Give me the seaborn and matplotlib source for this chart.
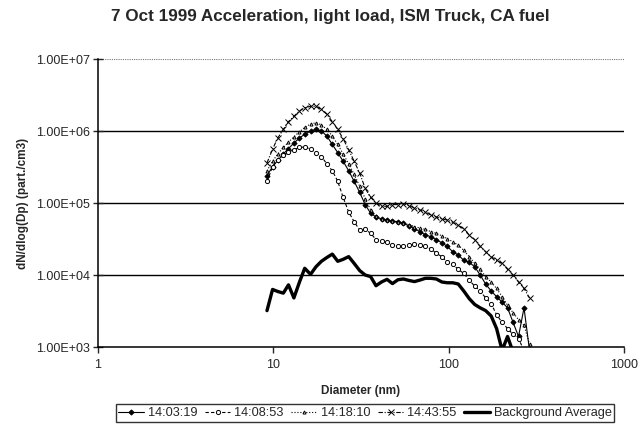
import numpy as np
import pandas as pd
import seaborn as sns
import matplotlib.pyplot as plt
from matplotlib.ticker import FixedLocator, FuncFormatter, NullLocator

# particle diameters (nm), SMPS channels
diameter = [
    9.2, 9.9, 10.6, 11.4, 12.2, 13.1, 14.1, 15.1, 16.3, 17.5,
    18.8, 20.2, 21.7, 23.3, 25.0, 26.9, 28.9, 31.1, 33.4, 35.9,
    38.5, 41.4, 44.5, 47.8, 51.4, 55.2, 59.4, 63.8, 68.5, 73.7,
    79.1, 85.1, 91.4, 98.2, 105.5, 113.4, 121.9, 131.0, 140.7, 151.2,
    162.5, 174.7, 187.7, 201.7, 216.7, 232.9, 250.3, 269.0, 289.1,
]

scan_140319 = [
    2.4e5, 3.2e5, 3.9e5, 4.8e5, 5.7e5, 6.8e5, 8.0e5, 9.0e5, 1.0e6, 1.05e6,
    1.0e6, 8.5e5, 6.5e5, 5.0e5, 3.8e5, 2.8e5, 2.0e5, 1.4e5, 9.5e4, 7.2e4,
    6.4e4, 6.0e4, 5.8e4, 5.6e4, 5.5e4, 5.2e4, 4.8e4, 4.4e4, 4.0e4, 3.6e4,
    3.4e4, 3.1e4, 2.8e4, 2.5e4, 2.1e4, 1.9e4, 1.6e4, 1.5e4, 1.3e4, 1.0e4,
    7.5e3, 6.0e3, 5.0e3, 4.2e3, 3.5e3, 2.2e3, 1.4e3, 3.5e3, 9.0e2,
]

scan_140853 = [
    2.0e5, 3.2e5, 4.0e5, 4.6e5, 5.1e5, 5.5e5, 5.9e5, 6.0e5, 5.6e5, 5.0e5,
    4.4e5, 3.5e5, 2.8e5, 2.0e5, 1.2e5, 7.5e4, 5.5e4, 4.2e4, 4.3e4, 3.8e4,
    3.1e4, 3.0e4, 2.9e4, 2.6e4, 2.5e4, 2.5e4, 2.6e4, 2.7e4, 2.6e4, 2.5e4,
    2.3e4, 2.0e4, 1.8e4, 1.5e4, 1.4e4, 1.2e4, 1.05e4, 8.5e3, 7.0e3, 6.0e3,
    4.8e3, 4.0e3, 2.8e3, 2.2e3, 1.8e3, 1.5e3, 1.3e3, 9.0e2, np.nan,
]

scan_141810 = [
    2.8e5, 3.8e5, 4.8e5, 5.9e5, 7.0e5, 8.3e5, 9.8e5, 1.12e6, 1.25e6, 1.3e6,
    1.22e6, 1.05e6, 8.5e5, 6.5e5, 4.8e5, 3.5e5, 2.5e5, 1.7e5, 1.15e5, 8.0e4,
    6.5e4, 6.0e4, 5.8e4, 5.6e4, 5.4e4, 5.2e4, 5.0e4, 4.7e4, 4.5e4, 4.3e4,
    4.0e4, 3.8e4, 3.5e4, 3.2e4, 2.9e4, 2.6e4, 2.2e4, 1.8e4, 1.45e4, 1.2e4,
    9.5e3, 8.0e3, 6.5e3, 5.0e3, 3.8e3, 3.0e3, 2.4e3, 2.0e3, 1.1e3,
]

scan_144355 = [
    3.6e5, 5.6e5, 8.0e5, 1.05e6, 1.35e6, 1.6e6, 1.9e6, 2.1e6, 2.2e6, 2.2e6,
    2.0e6, 1.7e6, 1.35e6, 1.05e6, 7.8e5, 5.5e5, 3.8e5, 2.6e5, 1.6e5, 1.2e5,
    1.0e5, 9.0e4, 9.0e4, 9.5e4, 9.5e4, 9.8e4, 9.2e4, 8.5e4, 8.0e4, 7.5e4,
    6.8e4, 6.4e4, 6.0e4, 5.8e4, 5.4e4, 4.9e4, 4.4e4, 3.6e4, 3.1e4, 2.5e4,
    2.1e4, 1.8e4, 1.6e4, 1.45e4, 1.2e4, 1.0e4, 8.0e3, 6.5e3, 4.8e3,
]

background_avg = [
    3.2e3, 6.3e3, 5.9e3, 5.6e3, 7.3e3, 4.8e3, 8.0e3, 1.24e4, 1.02e4, 1.3e4,
    1.55e4, 1.75e4, 1.95e4, 1.55e4, 1.65e4, 1.8e4, 1.45e4, 1.15e4, 1.0e4, 9.5e3,
    7.1e3, 8.0e3, 8.7e3, 7.6e3, 8.6e3, 8.8e3, 8.4e3, 8.1e3, 8.5e3, 9.0e3,
    9.0e3, 8.8e3, 8.0e3, 7.8e3, 7.8e3, 7.5e3, 6.0e3, 4.7e3, 3.9e3, 3.5e3,
    3.2e3, 2.7e3, 1.8e3, 9.0e2, 1.4e3, 8.5e2, np.nan, np.nan, np.nan,
]

y_ticks = [1e3, 1e4, 1e5, 1e6, 1e7]
x_ticks = [1, 10, 100, 1000]

series = {
    "14:03:19": scan_140319,
    "14:08:53": scan_140853,
    "14:18:10": scan_141810,
    "14:43:55": scan_144355,
    "Background Average": background_avg,
}

styles = {
    "14:03:19": dict(marker="D", markersize=2.6, linestyle="-", linewidth=0.8,
                     markerfacecolor="black"),
    "14:08:53": dict(marker="o", markersize=3, linestyle=(0, (3, 2)), linewidth=0.8,
                     markerfacecolor="white"),
    "14:18:10": dict(marker="^", markersize=2.2, linestyle=":", linewidth=0.8,
                     markerfacecolor="white"),
    "14:43:55": dict(marker="x", markersize=4, linestyle=(0, (4, 1.5, 1, 1.5)),
                     linewidth=0.8),
    "Background Average": dict(marker=None, linestyle="-", linewidth=2.4),
}

sns.set_style("ticks")
plt.rcParams["font.family"] = ["Liberation Sans", "DejaVu Sans"]

fig = plt.figure(figsize=(6.41, 4.30), dpi=100)
ax = fig.add_axes([98 / 641, 1 - 347 / 430, 526 / 641, 288 / 430])

for name, values in series.items():
    df = pd.DataFrame({"Diameter": diameter, "N": values}).dropna()
    sns.lineplot(
        data=df, x="Diameter", y="N", ax=ax, color="black",
        markeredgecolor="black", markeredgewidth=0.7,
        label=name, estimator=None, sort=False, **styles[name],
    )

ax.set_xscale("log")
ax.set_yscale("log")
ax.set_xlim(1, 1000)
ax.set_ylim(1e3, 1e7)

for v in [1e4, 1e5, 1e6]:
    ax.axhline(v, color="black", linewidth=1.0, zorder=0)
ax.axhline(1e7, color="#777777", linewidth=0.8, linestyle=(0, (1, 1)), zorder=0)

ax.yaxis.set_major_locator(FixedLocator(y_ticks))
ax.yaxis.set_minor_locator(NullLocator())
ax.yaxis.set_major_formatter(FuncFormatter(lambda v, p: f"{v:.2E}"))
ax.xaxis.set_major_locator(FixedLocator(x_ticks))
ax.xaxis.set_minor_locator(NullLocator())
ax.xaxis.set_major_formatter(FuncFormatter(lambda v, p: f"{int(v)}"))

ax.tick_params(axis="y", direction="inout", length=7, width=1, labelsize=9, pad=2)
ax.tick_params(axis="x", direction="out", length=4, width=1, labelsize=9, pad=5)

for side in ["top", "right"]:
    ax.spines[side].set_visible(False)
for side in ["left", "bottom"]:
    ax.spines[side].set_color("black")
    ax.spines[side].set_linewidth(1.1)

ax.set_xlabel("Diameter (nm)", fontsize=8.5, fontweight="bold", labelpad=10)
ax.set_ylabel("dN/dlog(Dp) (part./cm3)", fontsize=8.5, fontweight="bold", labelpad=5)

fig.text(330 / 641, 1 - 16 / 430, "7 Oct 1999 Acceleration, light load, ISM Truck, CA fuel",
         ha="center", va="center", fontsize=12.3, fontweight="bold")

handles, labels = ax.get_legend_handles_labels()
ax.get_legend().remove()
leg = fig.legend(handles, labels, loc="center", bbox_to_anchor=(365 / 641, 1 - 413 / 430),
                 ncol=5, fontsize=9.2, frameon=True, fancybox=False, handlelength=2.0,
                 handletextpad=0.3, columnspacing=0.6, borderpad=0.2, borderaxespad=0)
leg.get_frame().set_edgecolor("black")
leg.get_frame().set_linewidth(1.0)

fig.savefig("out.png", dpi=100)
plt.close()
